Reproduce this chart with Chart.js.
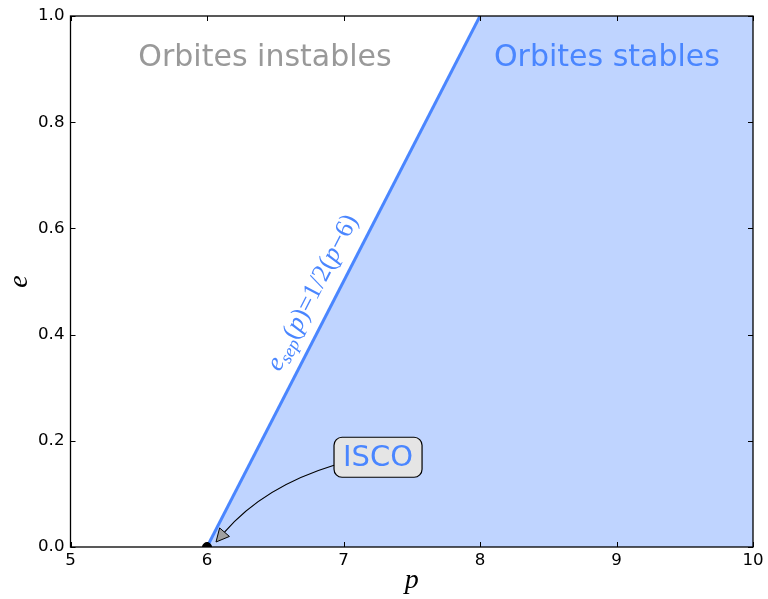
<!DOCTYPE html>
<html>
<head>
<meta charset="utf-8">
<script src="https://cdn.jsdelivr.net/npm/chart.js@4"></script>
<style>
  html, body { margin: 0; padding: 0; background: #fff; }
  #wrap { width: 768px; height: 599px; }
</style>
</head>
<body>
<div id="wrap"><canvas id="chart" width="768" height="599"></canvas></div>
<script>
// separatrix e = 1/2 (p - 6)
const sepP = [6, 8];
const sepE = [0, 1];
// stable region, filled down to e = 0
const stableP = [6, 8, 10];
const stableE = [0, 1, 1];
// ISCO point
const iscoP = [6];
const iscoE = [0];

const xRange = [5, 10];
const yRange = [0, 1];

const blue = '#4a86ff';
const fillBlue = '#bfd4ff';

function pts(xs, ys) {
    return xs.map((x, i) => ({ x: x, y: ys[i] }));
}

// frame + inward ticks on all four sides
const framePlugin = {
    id: 'frame',
    afterDraw(chart) {
        const ctx = chart.ctx;
        const a = chart.chartArea;
        const xs = chart.scales.x, ys = chart.scales.y;
        ctx.save();
        ctx.strokeStyle = '#000';
        ctx.lineWidth = 1;
        xs.ticks.forEach(t => {
            const px = Math.round(xs.getPixelForValue(t.value)) + 0.5;
            ctx.beginPath();
            ctx.moveTo(px, a.bottom); ctx.lineTo(px, a.bottom - 5);
            ctx.moveTo(px, a.top); ctx.lineTo(px, a.top + 5);
            ctx.stroke();
        });
        ys.ticks.forEach(t => {
            const py = Math.round(ys.getPixelForValue(t.value)) + 0.5;
            ctx.beginPath();
            ctx.moveTo(a.left, py); ctx.lineTo(a.left + 5, py);
            ctx.moveTo(a.right, py); ctx.lineTo(a.right - 5, py);
            ctx.stroke();
        });
        ctx.lineWidth = 1.3;
        ctx.strokeRect(a.left, a.top, a.right - a.left, a.bottom - a.top);
        ctx.restore();
    }
};

// region labels, separatrix equation and ISCO annotation
const notesPlugin = {
    id: 'notes',
    afterDatasetsDraw(chart) {
        const ctx = chart.ctx;
        const xs = chart.scales.x, ys = chart.scales.y;
        const px = v => xs.getPixelForValue(v);
        const py = v => ys.getPixelForValue(v);
        ctx.save();

        ctx.font = '30px "DejaVu Sans"';
        ctx.textAlign = 'center';
        ctx.textBaseline = 'middle';
        ctx.fillStyle = '#999999';
        ctx.fillText('Orbites instables', px(6.425), py(0.921));
        ctx.fillStyle = blue;
        ctx.fillText('Orbites stables', px(8.93), py(0.921));

        // equation along the separatrix
        const x0 = px(sepP[0]), y0 = py(sepE[0]);
        const x1 = px(sepP[1]), y1 = py(sepE[1]);
        const len = Math.hypot(x1 - x0, y1 - y0);
        const ux = (x1 - x0) / len, uy = (y1 - y0) / len;
        const nx = uy, ny = -ux; // left/up normal
        const mx = (x0 + x1) / 2, my = (y0 + y1) / 2;
        const cx = mx - 24 * ux + 22 * nx;
        const cy = my - 24 * uy + 22 * ny;
        const it = s => 'italic ' + s + 'px "Liberation Serif"';
        const up = s => s + 'px "Liberation Serif"';
        const segs = [
            ['e', it(26), 0], ['sep', it(18), 7], ['(', up(26), 0], ['p', it(26), 0],
            [')=1/2(', up(26), 0], ['p', it(26), 0], ['\u22126)', up(26), 0]
        ];
        let total = 0;
        segs.forEach(s => { ctx.font = s[1]; total += ctx.measureText(s[0]).width; });
        ctx.translate(cx, cy);
        ctx.rotate(Math.atan2(y1 - y0, x1 - x0));
        ctx.fillStyle = blue;
        ctx.textAlign = 'left';
        ctx.textBaseline = 'middle';
        let off = -total / 2;
        segs.forEach(s => {
            ctx.font = s[1];
            ctx.fillText(s[0], off, s[2]);
            off += ctx.measureText(s[0]).width;
        });
        ctx.setTransform(1, 0, 0, 1, 0, 0);

        // ISCO box
        const bx = px(7.253), by = py(0.169);
        ctx.font = '29px "DejaVu Sans"';
        const tw = ctx.measureText('ISCO').width;
        const bw = tw + 18, bh = 40, r = 8;
        const left = bx - bw / 2, top = by - bh / 2;
        ctx.beginPath();
        ctx.moveTo(left + r, top);
        ctx.arcTo(left + bw, top, left + bw, top + bh, r);
        ctx.arcTo(left + bw, top + bh, left, top + bh, r);
        ctx.arcTo(left, top + bh, left, top, r);
        ctx.arcTo(left, top, left + bw, top, r);
        ctx.closePath();
        ctx.fillStyle = '#e5e5e5';
        ctx.fill();
        ctx.strokeStyle = '#000';
        ctx.lineWidth = 1.2;
        ctx.stroke();
        ctx.fillStyle = blue;
        ctx.textAlign = 'center';
        ctx.textBaseline = 'middle';
        ctx.fillText('ISCO', bx, by + 1);

        // curved arrow to the ISCO point
        const sx = left, sy = by + 8;
        const tx = px(6.066), ty = py(0.0094);
        const qx = (sx + tx) / 2 - 11, qy = (sy + ty) / 2 - 17;
        let dx = tx - qx, dy = ty - qy;
        const dl = Math.hypot(dx, dy);
        dx /= dl; dy /= dl;
        const hl = 13, hw = 6.5;
        const bxh = tx - dx * hl, byh = ty - dy * hl;
        ctx.beginPath();
        ctx.moveTo(sx, sy);
        ctx.quadraticCurveTo(qx, qy, bxh, byh);
        ctx.lineWidth = 1.2;
        ctx.stroke();
        ctx.beginPath();
        ctx.moveTo(tx, ty);
        ctx.lineTo(bxh - dy * hw, byh + dx * hw);
        ctx.lineTo(bxh + dy * hw, byh - dx * hw);
        ctx.closePath();
        ctx.fillStyle = '#a0a0a0';
        ctx.fill();
        ctx.lineWidth = 1;
        ctx.stroke();

        ctx.restore();
    }
};

new Chart(document.getElementById('chart'), {
    type: 'scatter',
    data: {
        datasets: [
            {
                data: pts(stableP, stableE),
                showLine: true,
                fill: 'origin',
                backgroundColor: fillBlue,
                borderWidth: 0,
                pointRadius: 0,
                order: 3
            },
            {
                data: pts(sepP, sepE),
                showLine: true,
                fill: false,
                borderColor: blue,
                borderWidth: 3,
                pointRadius: 0,
                order: 2
            },
            {
                data: pts(iscoP, iscoE),
                pointRadius: 4.5,
                backgroundColor: '#000',
                borderColor: '#000',
                clip: 0,
                order: 1
            }
        ]
    },
    options: {
        responsive: false,
        animation: false,
        layout: { padding: { left: 0, top: 15, right: 15, bottom: 0 }, autoPadding: false },
        plugins: { legend: { display: false }, tooltip: { enabled: false } },
        scales: {
            x: {
                type: 'linear',
                min: xRange[0], max: xRange[1],
                afterFit: s => { s.height = 52; },
                grid: { display: false, drawTicks: false },
                border: { display: false },
                ticks: { stepSize: 1, padding: 4, color: '#000', font: { family: 'DejaVu Sans', size: 16.67 } },
                title: { display: true, text: 'p', color: '#000', padding: { top: 0, bottom: 2 },
                         font: { family: 'Liberation Serif', style: 'italic', size: 28 } }
            },
            y: {
                type: 'linear',
                min: yRange[0], max: yRange[1],
                afterFit: s => { s.width = 70.5; },
                grid: { display: false, drawTicks: false },
                border: { display: false },
                ticks: { stepSize: 0.2, padding: 6, color: '#000', font: { family: 'DejaVu Sans', size: 16.67 },
                         callback: v => v.toFixed(1) },
                title: { display: true, text: 'e', color: '#000', padding: { top: 3, bottom: 0 },
                         font: { family: 'Liberation Serif', style: 'italic', size: 28 } }
            }
        }
    },
    plugins: [framePlugin, notesPlugin]
});
</script>
</body>
</html>
